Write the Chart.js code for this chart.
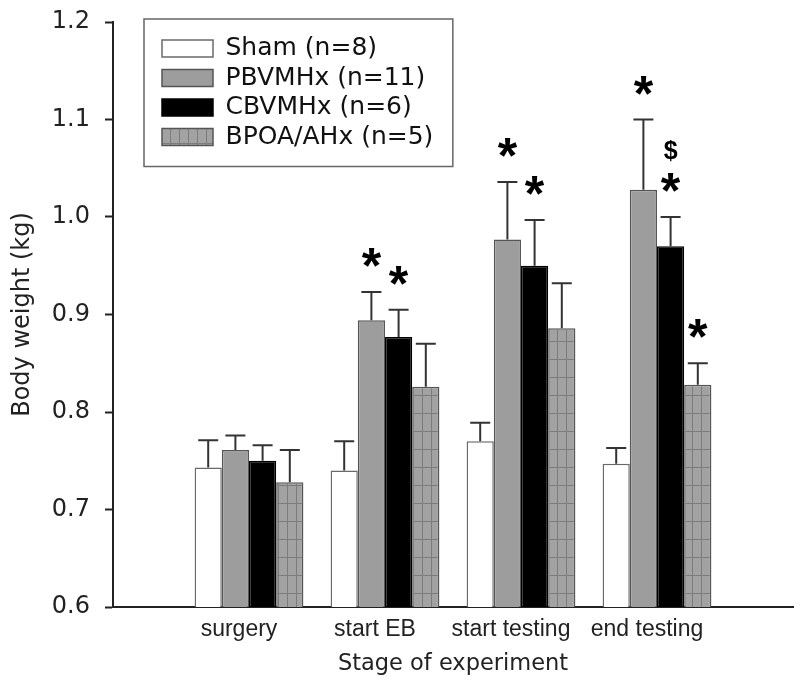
<!DOCTYPE html>
<html>
<head>
<meta charset="utf-8">
<script src="https://cdn.jsdelivr.net/npm/chart.js@4.4.1/dist/chart.umd.min.js"></script>
<style>
  html, body { margin: 0; padding: 0; background: #fff; }
</style>
</head>
<body>
<canvas id="bwChart" width="800" height="687"></canvas>
<script>
// Body weight (kg) at each stage, mean and upper SEM
const stages = ['surgery', 'start EB', 'start testing', 'end testing'];
const groupNames = ['Sham (n=8)', 'PBVMHx (n=11)', 'CBVMHx (n=6)', 'BPOA/AHx (n=5)'];

const shamMean = [0.743, 0.740, 0.770, 0.747];
const shamErr  = [0.028, 0.030, 0.019, 0.016];
const pbMean   = [0.761, 0.894, 0.977, 1.028];
const pbErr    = [0.015, 0.029, 0.059, 0.072];
const cbMean   = [0.750, 0.877, 0.950, 0.970];
const cbErr    = [0.016, 0.028, 0.047, 0.030];
const bpoaMean = [0.728, 0.826, 0.886, 0.828];
const bpoaErr  = [0.033, 0.044, 0.046, 0.022];

// significance marks above each bar ('$' sits above the '*')
const shamSig = ['', '', '', ''];
const pbSig   = ['', '*', '*', '*'];
const cbSig   = ['', '*', '*', '$*'];
const bpoaSig = ['', '', '', '*'];

const yMin = 0.6, yMax = 1.2, yStep = 0.1;

const FONT = "'DejaVu Sans', 'Liberation Sans', Arial, sans-serif";
const ARIAL = "'Liberation Sans', Arial, sans-serif";
const LEGEND_SIZE = 25;

// empty slot on each side of the categories
const pad = arr => [null, ...arr, null];

// grey fill with a fine grid (BPOA/AHx bars)
function gridPattern() {
    const c = document.createElement('canvas');
    c.width = 9; c.height = 18;
    const g = c.getContext('2d');
    g.fillStyle = '#a2a2a2';
    g.fillRect(0, 0, 9, 18);
    g.strokeStyle = '#7c7c7c';
    g.lineWidth = 1;
    g.beginPath();
    g.moveTo(8.5, 0); g.lineTo(8.5, 18);
    g.moveTo(0, 17.5); g.lineTo(9, 17.5);
    g.stroke();
    return g.createPattern(c, 'repeat');
}

const errorBars = {
    id: 'errorBars',
    afterDatasetsDraw(chart) {
        const ctx = chart.ctx;
        const yScale = chart.scales.y;
        ctx.save();
        chart.data.datasets.forEach((ds, di) => {
            const meta = chart.getDatasetMeta(di);
            meta.data.forEach((bar, i) => {
                const v = ds.data[i];
                if (v == null) return;
                const capY = yScale.getPixelForValue(v + ds.errors[i]);
                ctx.strokeStyle = '#333';
                ctx.lineWidth = 2;
                ctx.beginPath();
                ctx.moveTo(bar.x, bar.y);
                ctx.lineTo(bar.x, capY);
                ctx.moveTo(bar.x - 10, capY);
                ctx.lineTo(bar.x + 10, capY);
                ctx.stroke();

                // significance marks
                const sig = ds.sig[i] || '';
                ctx.fillStyle = '#000';
                ctx.textAlign = 'center';
                ctx.textBaseline = 'alphabetic';
                if (sig.includes('*')) {
                    ctx.font = 'bold 50px ' + ARIAL;
                    ctx.fillText('*', bar.x, capY - 37 + 28);
                }
                if (sig.includes('$')) {
                    ctx.font = 'bold 25px ' + ARIAL;
                    ctx.fillText('$', bar.x, capY - 67 + 9);
                }
            });
        });
        ctx.restore();
    }
};

// put the legend in the upper left of the plot and frame it
const legendBox = {
    id: 'legendBox',
    afterLayout(chart) {
        const lg = chart.legend;
        if (!lg) return;
        lg.left = chart.chartArea.left + 44.5;
        lg.top = chart.chartArea.top + 9.5;
    },
    beforeDatasetsDraw(chart) {
        const lg = chart.legend;
        const p = lg.options.labels.padding;
        const bh = lg.options.labels.boxHeight;
        const n = lg.legendItems.length;
        const off = (LEGEND_SIZE - bh) / 2;
        const x0 = lg.left + p - 18;
        const x1 = lg.left + lg.width - p + 14;
        const y0 = lg.top + p + off - 21;
        const y1 = lg.top + p + (n - 1) * (LEGEND_SIZE + p) + off + bh + 21;
        const ctx = chart.ctx;
        ctx.save();
        ctx.strokeStyle = '#666';
        ctx.lineWidth = 1.5;
        ctx.strokeRect(x0, y0, x1 - x0, y1 - y0);
        ctx.restore();
    }
};

const ctx = document.getElementById('bwChart');
const chart = new Chart(ctx, {
    type: 'bar',
    data: {
        labels: pad(stages),
        datasets: [
            { label: groupNames[0], data: pad(shamMean), errors: pad(shamErr), sig: pad(shamSig),
              backgroundColor: '#ffffff', borderColor: '#6a6a6a', borderWidth: 1.5 },
            { label: groupNames[1], data: pad(pbMean), errors: pad(pbErr), sig: pad(pbSig),
              backgroundColor: '#9d9d9d', borderColor: '#555', borderWidth: 1.5 },
            { label: groupNames[2], data: pad(cbMean), errors: pad(cbErr), sig: pad(cbSig),
              backgroundColor: '#000000', borderColor: '#000', borderWidth: 1.5 },
            { label: groupNames[3], data: pad(bpoaMean), errors: pad(bpoaErr), sig: pad(bpoaSig),
              backgroundColor: gridPattern(), borderColor: '#555', borderWidth: 1.5 }
        ]
    },
    options: {
        responsive: false,
        devicePixelRatio: 1,
        animation: false,
        layout: { padding: { left: 0, right: 7, top: 22, bottom: 0 } },
        datasets: { bar: { barPercentage: 1.0, categoryPercentage: 0.8, borderSkipped: 'bottom' } },
        plugins: {
            tooltip: { enabled: false },
            legend: {
                position: 'chartArea',
                align: 'start',
                labels: {
                    boxWidth: 51,
                    boxHeight: 17,
                    padding: 4.5,
                    color: '#111',
                    font: { family: FONT, size: LEGEND_SIZE }
                }
            }
        },
        scales: {
            x: {
                offset: false,
                grid: { display: false, drawTicks: false },
                border: { display: true, color: '#222', width: 2 },
                ticks: { color: '#222', padding: 9, maxRotation: 0, autoSkip: false,
                         labelOffset: -10, font: { family: ARIAL, size: 23 } },
                title: { display: true, text: 'Stage of experiment', color: '#222',
                         padding: { top: 0, bottom: 9 }, font: { family: FONT, size: 22.5 } },
                afterFit(scale) { scale.height = 80; }
            },
            y: {
                min: yMin,
                max: yMax,
                grid: { drawOnChartArea: false, drawTicks: true, tickLength: 8,
                        tickWidth: 2, tickColor: '#222' },
                border: { display: true, color: '#222', width: 2 },
                ticks: { stepSize: yStep, padding: 15, color: '#222',
                         font: { family: FONT, size: 24 },
                         callback: v => Number(v).toFixed(1) },
                title: { display: true, text: 'Body weight (kg)', color: '#222',
                         padding: { top: 8, bottom: 0 }, font: { family: FONT, size: 24 } },
                afterFit(scale) {
                    scale.width = 113;
                    scale.paddingTop = 0;
                    scale.paddingBottom = 0;
                }
            }
        }
    },
    plugins: [errorBars, legendBox]
});
</script>
</body>
</html>
